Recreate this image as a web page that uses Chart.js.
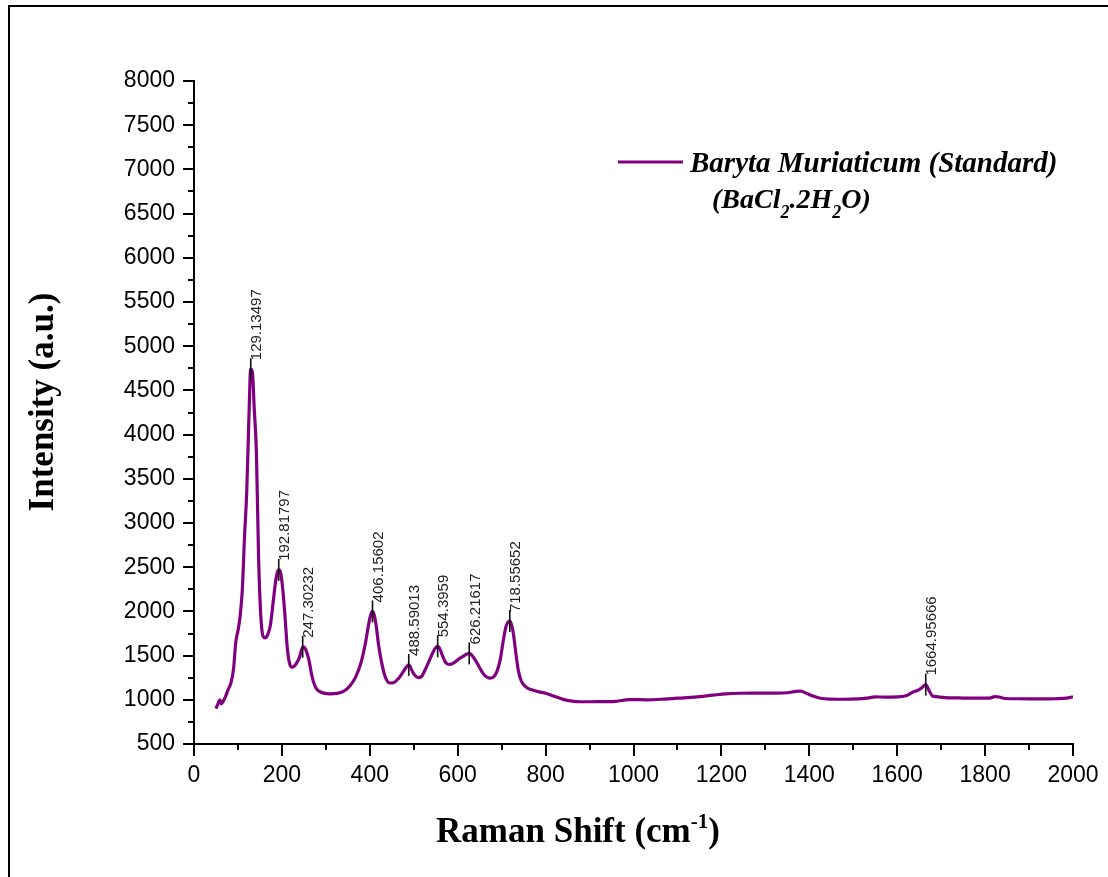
<!DOCTYPE html>
<html>
<head>
<meta charset="utf-8">
<script src="https://cdn.jsdelivr.net/npm/chart.js@4/dist/chart.umd.min.js"></script>
<style>
  html, body { margin: 0; padding: 0; background: #ffffff; }
  #wrap { position: relative; width: 1108px; height: 877px; overflow: hidden; }
  canvas { display: block; }
</style>
</head>
<body>
<div id="wrap"><canvas id="c" width="1108" height="877"></canvas></div>
<script>
// ---------------- data ----------------
const ramanShift = [50, 55, 59, 62, 66, 72, 78, 84, 90, 95, 100, 105, 110, 115, 120, 125, 129, 133, 137, 142, 147, 152, 157, 162, 168, 174, 180, 186, 190, 193, 197, 202, 207, 212, 217, 222, 228, 234, 240, 245, 248, 252, 257, 262, 267, 272, 278, 285, 295, 310, 325, 340, 355, 368, 380, 390, 398, 403, 406, 410, 415, 420, 427, 435, 445, 455, 465, 475, 483, 489, 495, 502, 510, 518, 526, 535, 545, 551, 555, 560, 566, 573, 582, 592, 602, 612, 620, 626, 632, 640, 648, 656, 665, 673, 682, 690, 697, 704, 710, 715, 719, 723, 727, 732, 738, 745, 752, 760, 770, 785, 800, 820, 840, 860, 880, 900, 930, 960, 990, 1000, 1030, 1070, 1100, 1140, 1180, 1210, 1240, 1280, 1320, 1350, 1370, 1380, 1395, 1410, 1425, 1450, 1480, 1510, 1530, 1550, 1570, 1600, 1620, 1635, 1648, 1657, 1665, 1672, 1680, 1690, 1710, 1750, 1790, 1810, 1822, 1832, 1845, 1880, 1920, 1960, 1985, 2000];
const intensity = [900, 960, 1000, 955, 980, 1040, 1120, 1190, 1350, 1650, 1780, 1950, 2250, 2850, 3350, 4200, 4740, 4700, 4300, 3800, 2600, 1950, 1720, 1700, 1740, 1850, 2100, 2350, 2450, 2470, 2440, 2250, 1950, 1600, 1420, 1370, 1380, 1420, 1480, 1570, 1600, 1590, 1530, 1440, 1300, 1200, 1130, 1095, 1075, 1068, 1072, 1095, 1160, 1260, 1420, 1640, 1870, 1975, 2000, 1960, 1820, 1620, 1420, 1260, 1190, 1195, 1240, 1310, 1370, 1395, 1340, 1280, 1250, 1265, 1340, 1440, 1550, 1595, 1605, 1570, 1490, 1420, 1400, 1420, 1460, 1490, 1515, 1525, 1505, 1450, 1380, 1310, 1260, 1245, 1260, 1330, 1460, 1680, 1830, 1880, 1890, 1840, 1740, 1540, 1330, 1210, 1160, 1130, 1110, 1090, 1075, 1040, 1005, 985, 978, 978, 980, 983, 1002, 1002, 1000, 1008, 1018, 1030, 1052, 1068, 1074, 1075, 1076, 1080, 1096, 1098, 1070, 1040, 1018, 1008, 1006, 1010, 1018, 1033, 1030, 1032, 1045, 1085, 1110, 1140, 1172, 1110, 1045, 1035, 1025, 1020, 1018, 1020, 1035, 1032, 1015, 1012, 1010, 1012, 1018, 1035];

const peakShift = [129.13497, 192.81797, 247.30232, 406.15602, 488.59013, 554.3959, 626.21617, 718.55652, 1664.95666];
const peakIntensity = [4740, 2470, 1600, 2000, 1395, 1605, 1525, 1890, 1172];
const peakLabels = ["129.13497", "192.81797", "247.30232", "406.15602", "488.59013", "554.3959", "626.21617", "718.55652", "1664.95666"];

const xTickValues = [0, 200, 400, 600, 800, 1000, 1200, 1400, 1600, 1800, 2000];
const yTickValues = [500, 1000, 1500, 2000, 2500, 3000, 3500, 4000, 4500, 5000, 5500, 6000, 6500, 7000, 7500, 8000];

const seriesName = "Baryta Muriaticum (Standard)";
const xTitle = "Raman Shift (cm";
const xTitleSup = "-1";
const yTitle = "Intensity (a.u.)";

// ---------------- styling ----------------
const PURPLE = "#800080";
const SANS = "'Liberation Sans', Arial, sans-serif";
const SERIF = "'Liberation Serif', 'Times New Roman', serif";

const points = ramanShift.map((x, i) => ({ x: x, y: intensity[i] }));

const decorPlugin = {
  id: "decor",
  beforeDraw(chart) {
    const ctx = chart.ctx;
    ctx.save();
    ctx.fillStyle = "#ffffff";
    ctx.fillRect(0, 0, chart.width, chart.height);
    ctx.strokeStyle = "#000";
    ctx.lineWidth = 2;
    ctx.beginPath();
    ctx.moveTo(9, chart.height);
    ctx.lineTo(9, 6);
    ctx.lineTo(chart.width, 6);
    ctx.stroke();
    ctx.restore();
  },
  afterDraw(chart) {
    const ctx = chart.ctx;
    const xs = chart.scales.x, ys = chart.scales.y;
    const area = chart.chartArea;
    ctx.save();
    ctx.strokeStyle = "#000";
    ctx.lineWidth = 2;
    for (let v = xs.min; v <= xs.max + 0.001; v += 100) {
      const px = Math.round(xs.getPixelForValue(v));
      const major = xTickValues.includes(Math.round(v));
      ctx.beginPath();
      ctx.moveTo(px, area.bottom);
      ctx.lineTo(px, area.bottom + (major ? 12 : 6));
      ctx.stroke();
    }
    for (let v = ys.min; v <= ys.max + 0.001; v += 250) {
      const py = Math.round(ys.getPixelForValue(v));
      const major = yTickValues.includes(Math.round(v));
      ctx.beginPath();
      ctx.moveTo(area.left, py);
      ctx.lineTo(area.left - (major ? 11 : 6), py);
      ctx.stroke();
    }

    // peak annotations
    ctx.lineWidth = 1.6;
    ctx.strokeStyle = "#111";
    ctx.fillStyle = "#222";
    ctx.font = "15px " + SANS;
    for (let i = 0; i < peakShift.length; i++) {
      const px = xs.getPixelForValue(peakShift[i]);
      const py = ys.getPixelForValue(peakIntensity[i]);
      const top = py - 11;
      ctx.beginPath();
      ctx.moveTo(px, py + 11);
      ctx.lineTo(px, top);
      ctx.stroke();
      ctx.save();
      ctx.translate(px - 1, top + 2);
      ctx.rotate(-Math.PI / 2);
      ctx.textAlign = "left";
      ctx.textBaseline = "top";
      ctx.fillText(peakLabels[i], 0, 0);
      ctx.restore();
    }

    // legend
    ctx.strokeStyle = PURPLE;
    ctx.lineWidth = 3;
    ctx.beginPath();
    ctx.moveTo(618, 162);
    ctx.lineTo(683, 162);
    ctx.stroke();
    ctx.fillStyle = "#000";
    ctx.textAlign = "left";
    ctx.textBaseline = "alphabetic";
    ctx.font = "italic bold 29px " + SERIF;
    ctx.fillText(seriesName, 690, 172);
    const parts = [["(BaCl", false], ["2", true], [".2H", false], ["2", true], ["O)", false]];
    let lx = 712;
    for (const [t, sub] of parts) {
      ctx.font = sub ? "italic bold 18px " + SERIF : "italic bold 28px " + SERIF;
      ctx.fillText(t, lx, sub ? 218 : 208);
      lx += ctx.measureText(t).width;
    }

    // x axis title with superscript
    ctx.font = "bold 35px " + SERIF;
    const w1 = ctx.measureText(xTitle).width;
    ctx.font = "bold 21px " + SERIF;
    const w2 = ctx.measureText(xTitleSup).width;
    ctx.font = "bold 35px " + SERIF;
    const w3 = ctx.measureText(")").width;
    let tx = 578 - (w1 + w2 + w3) / 2;
    ctx.fillText(xTitle, tx, 842);
    tx += w1;
    ctx.font = "bold 21px " + SERIF;
    ctx.fillText(xTitleSup, tx, 828);
    tx += w2;
    ctx.font = "bold 35px " + SERIF;
    ctx.fillText(")", tx, 842);

    // y axis title
    ctx.save();
    ctx.translate(53, 402);
    ctx.rotate(-Math.PI / 2);
    ctx.textAlign = "center";
    ctx.font = "bold 35px " + SERIF;
    ctx.fillText(yTitle, 0, 0);
    ctx.restore();

    ctx.restore();
  }
};

new Chart(document.getElementById("c"), {
  type: "line",
  data: {
    datasets: [{
      label: seriesName,
      data: points,
      borderColor: PURPLE,
      backgroundColor: PURPLE,
      borderWidth: 3.2,
      pointRadius: 0,
      fill: false,
      cubicInterpolationMode: "monotone"
    }]
  },
  options: {
    responsive: false,
    animation: false,
    devicePixelRatio: 1,
    layout: { padding: { left: 0, top: 81, right: 35, bottom: 0 } },
    plugins: {
      legend: { display: false },
      tooltip: { enabled: false },
      title: { display: false }
    },
    scales: {
      x: {
        type: "linear",
        min: 0,
        max: 2000,
        afterBuildTicks(scale) { scale.ticks = xTickValues.map(v => ({ value: v })); },
        ticks: {
          color: "#000",
          font: { family: SANS, size: 23 },
          padding: 10,
          maxRotation: 0,
          autoSkip: false,
          callback: (v) => String(v)
        },
        grid: { display: false },
        border: { display: true, color: "#000", width: 2 },
        title: { display: false },
        afterFit(scale) { scale.height = 133; scale.paddingLeft = 0; scale.paddingRight = 0; }
      },
      y: {
        type: "linear",
        min: 500,
        max: 8000,
        afterBuildTicks(scale) { scale.ticks = yTickValues.map(v => ({ value: v })); },
        ticks: {
          color: "#000",
          font: { family: SANS, size: 23 },
          padding: 11,
          autoSkip: false,
          callback: (v) => String(v)
        },
        grid: { display: false },
        border: { display: true, color: "#000", width: 2 },
        title: { display: false },
        afterFit(scale) { scale.width = 194; }
      }
    }
  },
  plugins: [decorPlugin]
});
</script>
</body>
</html>
